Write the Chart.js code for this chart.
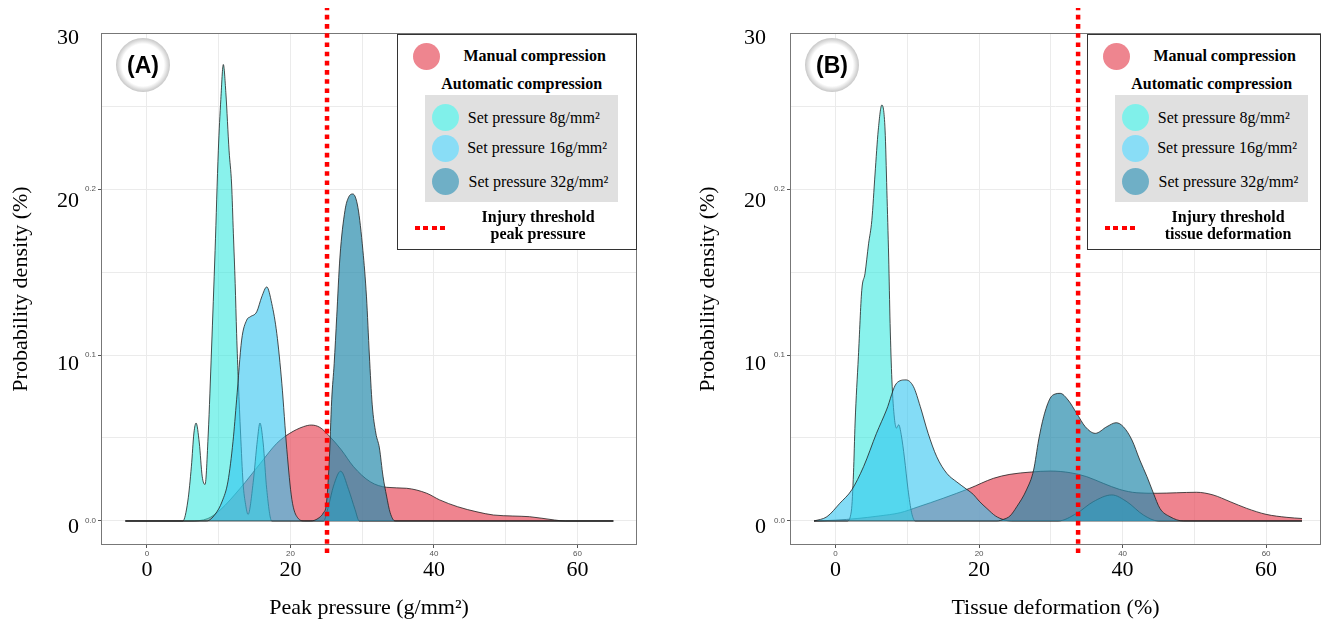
<!DOCTYPE html>
<html>
<head>
<meta charset="utf-8">
<script src="https://cdn.jsdelivr.net/npm/chart.js@4.4.1/dist/chart.umd.min.js"></script>
<style>
body { margin: 0; background: #fff; }
#wrap { position: relative; width: 1326px; height: 621px; overflow: hidden; font-family: "Liberation Serif", serif; }
.panel { position: absolute; top: 0; width: 663px; height: 621px; }
.legend { position: absolute; top: 34px; height: 216px; border: 1.5px solid #333; background: #fff; box-sizing: border-box; }
.legend .dot { position: absolute; width: 27px; height: 27px; border-radius: 50%; }
.legend .txt { position: absolute; font-size: 16px; line-height: 20px; white-space: nowrap; transform: translateY(-50%); }
.legend .b { font-weight: bold; }
.legend .grey { position: absolute; left: 26.5px; top: 59.5px; width: 193px; height: 107px; background: #e0e0e0; }
.legend .dash { position: absolute; left: 16.5px; top: 190.5px; width: 30px; height: 4.5px;
  background: repeating-linear-gradient(90deg, #f00 0 5px, transparent 5px 8.3px); }
.badge { position: absolute; top: 38px; width: 54px; height: 54px; border-radius: 50%;
  background: radial-gradient(circle, #fff 0, #fff 55%, #c2c2c2 72%, #d8d8d8 84%, rgba(255,255,255,0) 100%);
  font: bold 23px "Liberation Sans", Arial, sans-serif; display: flex; align-items: center; justify-content: center; }
</style>
</head>
<body>
<div id="wrap">
  <div class="panel" style="left:0"><canvas id="chartA" width="663" height="621"></canvas></div>
  <div class="panel" style="left:663px"><canvas id="chartB" width="663" height="621"></canvas></div>
  <div class="badge" style="left:116px">(A)</div>
  <div class="badge" style="left:805px">(B)</div>
</div>
<script>
// ticks
const gridX = [0, 10, 20, 30, 40, 50, 60];
const labelX = [0, 20, 40, 60];
const gridY = [0, 0.05, 0.1, 0.15, 0.2, 0.25];
const labelY = [0, 0.1, 0.2];
const pctTicks = [0, 10, 20, 30];

// (A) peak pressure
const manualA_x = [-3, 6, 8.5, 10.2, 13, 15.8, 18.1, 19.9, 21.8, 22.9, 24.1, 25.5, 27.1, 28.8, 31.1, 33.4, 36.2, 39, 40.8, 43.3, 46, 48.3, 51, 53.3, 56.8, 58.3, 65];
const manualA_y = [0, 0, 0.0015, 0.0066, 0.0197, 0.0347, 0.0468, 0.0528, 0.0568, 0.0578, 0.0564, 0.0508, 0.0428, 0.0327, 0.0237, 0.0203, 0.0197, 0.0167, 0.0127, 0.0086, 0.0055, 0.0036, 0.003, 0.0026, 0.0006, 0, 0];
const set8A_x = [-3, 5.0, 5.7, 6.2, 6.55, 6.85, 7.3, 7.7, 8.1, 8.55, 9.0, 9.5, 9.95, 10.3, 10.65, 11.0, 11.45, 11.8, 12.05, 12.3, 12.5, 12.75, 13.05, 13.4, 13.75, 14.1, 14.8, 15.4, 15.75, 16.2, 16.7, 17.4, 65];
const set8A_y = [0, 0, 0.012, 0.033, 0.053, 0.059, 0.047, 0.027, 0.022, 0.053, 0.103, 0.163, 0.223, 0.254, 0.275, 0.258, 0.223, 0.203, 0.173, 0.143, 0.113, 0.083, 0.053, 0.023, 0.01, 0.004, 0.023, 0.049, 0.059, 0.047, 0.019, 0, 0];
const set16A_x = [-3, 8.3, 9.5, 10.5, 11.3, 12.0, 12.5, 13.2, 13.9, 14.4, 15.3, 16.0, 16.7, 17.4, 18.1, 18.8, 19.5, 20.2, 21.0, 22.0, 24.6, 25.3, 26.0, 27.0, 28.1, 29.0, 29.6, 65];
const set16A_y = [0, 0, 0.004, 0.012, 0.024, 0.048, 0.073, 0.109, 0.121, 0.123, 0.126, 0.135, 0.141, 0.131, 0.113, 0.083, 0.043, 0.013, 0.002, 0, 0, 0.009, 0.021, 0.03, 0.019, 0.007, 0, 0];
const set32A_x = [-3, 22.8, 24.0, 24.6, 25.0, 25.4, 25.75, 26.1, 26.45, 26.9, 27.6, 28.1, 28.7, 29.4, 30.1, 30.6, 31.0, 31.4, 31.9, 32.4, 32.9, 33.4, 33.9, 34.6, 65];
const set32A_y = [0, 0, 0.002, 0.005, 0.01, 0.035, 0.073, 0.095, 0.123, 0.159, 0.187, 0.195, 0.197, 0.189, 0.163, 0.135, 0.1, 0.07, 0.053, 0.044, 0.027, 0.015, 0.005, 0, 0];
const thresholdA = 25.1;

// (B) tissue deformation
const manualB_x = [-3, 0, 3, 6, 9, 11.5, 15, 18.7, 22, 24.3, 27.3, 29.9, 32.7, 35, 37.3, 39.6, 42, 44.8, 47.5, 50.3, 52.6, 55, 57.3, 60, 62.9, 65];
const manualB_y = [0, 0.0005, 0.0015, 0.003, 0.005, 0.0085, 0.0137, 0.0197, 0.0257, 0.0281, 0.0295, 0.0301, 0.0291, 0.0267, 0.0227, 0.019, 0.017, 0.0167, 0.017, 0.0173, 0.0157, 0.0116, 0.0076, 0.004, 0.0022, 0.0015];
const set8B_x = [-3, 1.6, 2.2, 2.5, 2.72, 3.18, 3.65, 4.1, 4.6, 5.05, 5.5, 5.95, 6.45, 6.9, 7.15, 7.4, 7.6, 7.85, 8.2, 8.5, 8.8, 9.15, 9.6, 10.1, 10.6, 11.1, 65];
const set8B_y = [0, 0, 0.006, 0.029, 0.059, 0.099, 0.139, 0.149, 0.167, 0.181, 0.209, 0.2355, 0.2506, 0.2355, 0.199, 0.159, 0.119, 0.085, 0.062, 0.056, 0.058, 0.052, 0.038, 0.019, 0.005, 0, 0];
const set16B_x = [-3, -1.2, 0.6, 2.25, 3.9, 5.7, 7.1, 8.5, 9.8, 10.85, 11.8, 12.9, 14.1, 15.5, 16.9, 18.3, 19.2, 20.0, 21.1, 22.3, 23.5, 24.5, 31.0, 33.6, 35.9, 38.5, 40.6, 42.9, 45.0, 65];
const set16B_y = [0, 0.0026, 0.0107, 0.0187, 0.0327, 0.0528, 0.0669, 0.083, 0.085, 0.081, 0.069, 0.0528, 0.0387, 0.0287, 0.0235, 0.019, 0.016, 0.012, 0.0075, 0.003, 0.0007, 0, 0, 0.0046, 0.0116, 0.0157, 0.0116, 0.0036, 0, 0];
const set32B_x = [-3, 22.5, 23.4, 24.3, 25.25, 26.6, 27.6, 28.3, 29.0, 29.9, 30.6, 31.3, 32.4, 33.6, 34.8, 36.2, 37.8, 39.1, 40.1, 41.3, 42.4, 43.4, 44.3, 45.2, 46.6, 48.5, 65];
const set32B_y = [0, 0, 0.001, 0.003, 0.0086, 0.0187, 0.0307, 0.0488, 0.0628, 0.0739, 0.0765, 0.0769, 0.0729, 0.0649, 0.0568, 0.0528, 0.0568, 0.0592, 0.0568, 0.0488, 0.0367, 0.0267, 0.0167, 0.0076, 0.0026, 0, 0];
const thresholdB = 33.8;

const colors = {
	manual: "rgba(232, 80, 95, 0.7)",
	set8: "rgba(40, 232, 220, 0.55)",
	set16: "rgba(50, 196, 240, 0.6)",
	set32: "rgba(40, 140, 172, 0.7)"
};
const swatch = {
	manual: "#ee858f",
	set8: "#80f0ea",
	set16: "#89ddf6",
	set32: "#6fafc6"
};

Chart.defaults.font.family = '"Liberation Serif", serif';

const pts = (xs, ys) => xs.map((x, i) => ({ x: x, y: ys[i] }));

function density(label, xs, ys, color, order) {
	return {
		label: label,
		data: pts(xs, ys),
		fill: "origin",
		backgroundColor: color,
		borderColor: "rgba(35, 35, 35, 0.9)",
		borderWidth: 0.9,
		pointRadius: 0,
		cubicInterpolationMode: "monotone",
		order: order
	};
}

const frame = {
	id: "frame",
	beforeDatasetsDraw(chart) {
		const a = chart.chartArea;
		const ctx = chart.ctx;
		ctx.save();
		ctx.strokeStyle = "#777";
		ctx.lineWidth = 1;
		ctx.strokeRect(a.left + 0.5, a.top + 0.5, a.width - 1, a.height - 1);
		ctx.restore();
	}
};

function makeChart(id, cfg) {
	const yMin = -0.01446, yMax = 0.29398;
	return new Chart(document.getElementById(id), {
		type: "line",
		data: {
			datasets: [
				{
					label: "threshold",
					data: [{ x: cfg.threshold, y: -0.0193 }, { x: cfg.threshold, y: 0.309 }],
					borderColor: "#ff0000",
					borderWidth: 4.5,
					borderDash: [4.6, 4.6],
					pointRadius: 0,
					fill: false,
					clip: false,
					order: 0
				},
				density("Set pressure 32g/mm²", cfg.s32[0], cfg.s32[1], colors.set32, 1),
				density("Set pressure 16g/mm²", cfg.s16[0], cfg.s16[1], colors.set16, 2),
				density("Set pressure 8g/mm²", cfg.s8[0], cfg.s8[1], colors.set8, 3),
				density("Manual compression", cfg.manual[0], cfg.manual[1], colors.manual, 4)
			]
		},
		options: {
			responsive: false,
			animation: false,
			layout: { padding: { left: 0, right: cfg.padRight, top: 33, bottom: 0 } },
			plugins: { legend: { display: false }, tooltip: { enabled: false } },
			scales: {
				x: {
					type: "linear",
					position: "bottom",
					weight: 0,
					min: cfg.xMin,
					max: cfg.xMax,
					afterBuildTicks: s => { s.ticks = gridX.map(v => ({ value: v })); },
					afterFit: s => { s.height = 12; },
					grid: {
						color: "#ebebeb",
						tickLength: 3,
						tickColor: c => (c.tick && labelX.includes(c.tick.value)) ? "#555" : "rgba(0,0,0,0)"
					},
					border: { display: false },
					ticks: {
						autoSkip: false,
						maxRotation: 0,
						padding: 1,
						color: "#555",
						font: { family: '"Liberation Sans", sans-serif', size: 8 },
						callback: v => labelX.includes(v) ? String(v) : ""
					}
				},
				x2: {
					type: "linear",
					position: "bottom",
					weight: 1,
					min: cfg.xMin,
					max: cfg.xMax,
					afterBuildTicks: s => { s.ticks = labelX.map(v => ({ value: v })); },
					afterFit: s => { s.height = 64; },
					grid: { display: false, drawTicks: false },
					border: { display: false },
					ticks: {
						autoSkip: false,
						maxRotation: 0,
						padding: 2,
						color: "#000",
						font: { size: 22, lineHeight: 1 }
					},
					title: {
						display: true,
						text: cfg.xTitle,
						color: "#000",
						font: { size: 22 },
						padding: { top: 0, bottom: 0 }
					}
				},
				y: {
					type: "linear",
					position: "left",
					weight: 0,
					min: yMin,
					max: yMax,
					afterBuildTicks: s => { s.ticks = gridY.map(v => ({ value: v })); },
					afterFit: s => { s.width = cfg.yWidth; },
					grid: {
						color: "#ebebeb",
						tickLength: 3,
						tickColor: c => (c.tick && labelY.includes(c.tick.value)) ? "#555" : "rgba(0,0,0,0)"
					},
					border: { display: false },
					ticks: {
						autoSkip: false,
						padding: 2,
						color: "#555",
						font: { family: '"Liberation Sans", sans-serif', size: 8 },
						callback: v => labelY.includes(v) ? v.toFixed(1) : ""
					}
				},
				y2: {
					type: "linear",
					position: "left",
					weight: 1,
					min: -1.07,
					max: 30.33,
					afterBuildTicks: s => { s.ticks = pctTicks.map(v => ({ value: v })); },
					afterFit: s => { s.width = cfg.y2Width; },
					grid: { display: false, drawTicks: false },
					border: { display: false },
					ticks: {
						autoSkip: false,
						padding: 0,
						color: "#000",
						font: { size: 22 }
					},
					title: {
						display: true,
						text: "Probability density (%)",
						color: "#000",
						font: { size: 22 },
						padding: { top: cfg.yTitlePad, bottom: 0 }
					}
				}
			}
		},
		plugins: [frame]
	});
}

makeChart("chartA", {
	manual: [manualA_x, manualA_y],
	s8: [set8A_x, set8A_y],
	s16: [set16A_x, set16A_y],
	s32: [set32A_x, set32A_y],
	threshold: thresholdA,
	xMin: -6.4, xMax: 68.3,
	padRight: 26,
	yWidth: 22, y2Width: 79, yTitlePad: 7.8,
	xTitle: "Peak pressure (g/mm²)"
});

makeChart("chartB", {
	manual: [manualB_x, manualB_y],
	s8: [set8B_x, set8B_y],
	s16: [set16B_x, set16B_y],
	s32: [set32B_x, set32B_y],
	threshold: thresholdB,
	xMin: -6.35, xMax: 67.65,
	padRight: 5,
	yWidth: 24, y2Width: 103, yTitlePad: 32.4,
	xTitle: "Tissue deformation (%)"
});

// legends
function addLegend(left, width, thresholdText) {
	const box = document.createElement("div");
	box.className = "legend";
	box.style.left = left + "px";
	box.style.width = width + "px";
	const add = (cls, css, text) => {
		const el = document.createElement("div");
		el.className = cls;
		Object.assign(el.style, css);
		if (text) el.textContent = text;
		box.appendChild(el);
		return el;
	};
	add("dot", { left: "15.3px", top: "7.7px", background: swatch.manual });
	add("txt b", { left: "65.5px", top: "21.2px" }, "Manual compression");
	add("txt b", { left: "43.2px", top: "48.8px" }, "Automatic compression");
	add("grey", {});
	const rows = [
		[swatch.set8, "Set pressure 8g/mm²", 82.5, 69.8],
		[swatch.set16, "Set pressure 16g/mm²", 113, 69.2],
		[swatch.set32, "Set pressure 32g/mm²", 146.5, 70.5]
	];
	rows.forEach(r => {
		add("dot", { left: "34px", top: (r[2] - 13.5) + "px", background: r[0] });
		add("txt", { left: r[3] + "px", top: r[2] + "px" }, r[1]);
	});
	add("dash", {});
	add("txt b", { left: "40px", width: "200px", textAlign: "center", top: "181.5px" }, "Injury threshold");
	add("txt b", { left: "40px", width: "200px", textAlign: "center", top: "198.5px" }, thresholdText);
	document.getElementById("wrap").appendChild(box);
}
addLegend(397, 240, "peak pressure");
addLegend(1087, 234, "tissue deformation");
</script>
</body>
</html>
